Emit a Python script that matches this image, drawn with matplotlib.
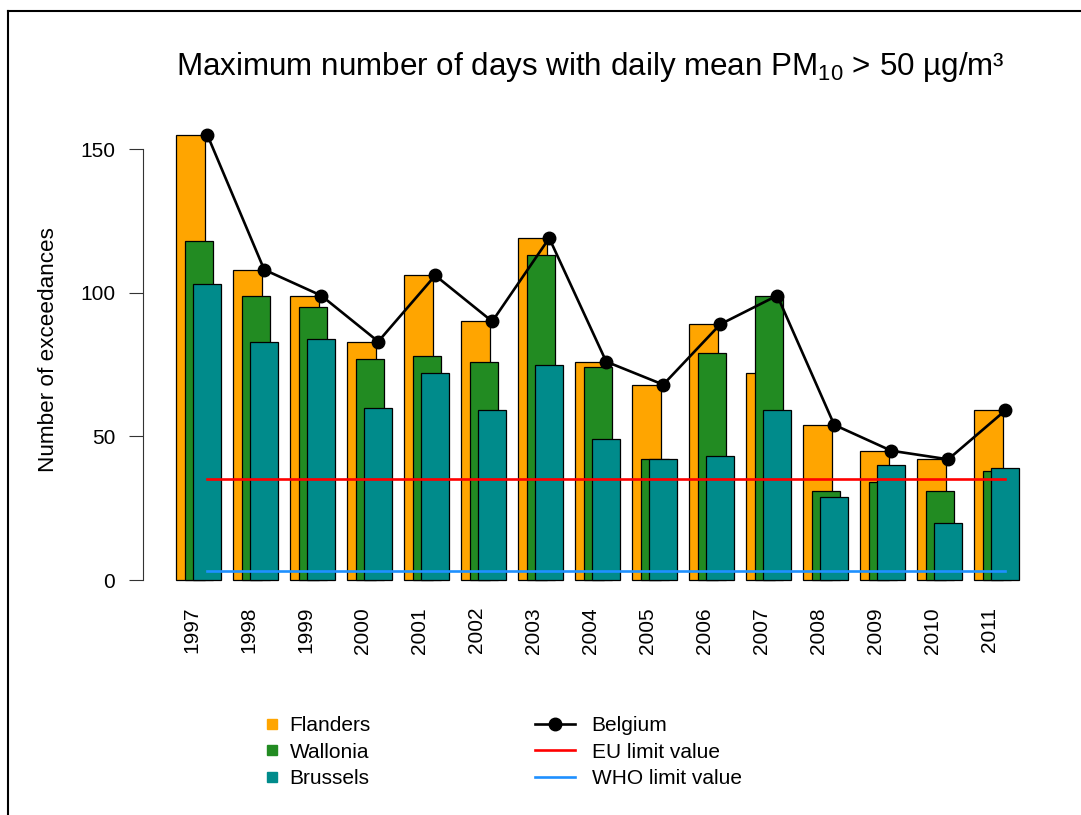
import numpy as np
import matplotlib
matplotlib.use("Agg")
import matplotlib.pyplot as plt
from matplotlib.lines import Line2D

plt.rcParams['font.family'] = ['Liberation Sans', 'DejaVu Sans']
plt.rcParams['mathtext.fontset'] = 'custom'
plt.rcParams['mathtext.rm'] = 'Liberation Sans'
plt.rcParams['mathtext.default'] = 'regular'

# data
years = ['1997', '1998', '1999', '2000', '2001', '2002', '2003', '2004',
         '2005', '2006', '2007', '2008', '2009', '2010', '2011']
flanders = [155, 108, 99, 83, 106, 90, 119, 76, 68, 89, 72, 54, 45, 42, 59]
wallonia = [118, 99, 95, 77, 78, 76, 113, 74, 42, 79, 99, 31, 34, 31, 38]
brussels = [103, 83, 84, 60, 72, 59, 75, 49, 42, 43, 59, 29, 40, 20, 39]
belgium = [155, 108, 99, 83, 106, 90, 119, 76, 68, 89, 99, 54, 45, 42, 59]
eu_limit = 35
who_limit = 3

col_fl = '#FFA500'
col_wa = '#228B22'
col_br = '#008B8B'

W, H = 1081, 815
fig = plt.figure(figsize=(W / 100, H / 100), dpi=100)

# axes placed in pixel terms
ax_l, ax_r, ax_b, ax_t = 143, 1040, 600, 120
ax = fig.add_axes([ax_l / W, 1 - ax_b / H, (ax_r - ax_l) / W, (ax_b - ax_t) / H])
ax.set_xlim(-0.981, 14.756)
ax.set_ylim((580 - 600) / 2.873, (580 - 120) / 2.873)

x = np.arange(len(years))
bw = 0.5
off = 0.146
ax.bar(x - off, flanders, width=bw, color=col_fl, edgecolor='black', linewidth=0.9, zorder=2)
ax.bar(x, wallonia, width=bw, color=col_wa, edgecolor='black', linewidth=0.9, zorder=3)
ax.bar(x + off, brussels, width=bw, color=col_br, edgecolor='black', linewidth=0.9, zorder=4)

xb = x + off
ax.plot(xb, [eu_limit] * len(xb), color='red', lw=1.9, zorder=5)
ax.plot(xb, [who_limit] * len(xb), color='#1E90FF', lw=1.9, zorder=5)
ax.plot(xb, belgium, color='black', lw=1.9, marker='o', ms=9, zorder=6)

for s in ['top', 'right', 'bottom']:
    ax.spines[s].set_visible(False)
ax.spines['left'].set_bounds(0, 150)
ax.spines['left'].set_color('#333333')
ax.spines['left'].set_linewidth(0.8)
ax.set_yticks([0, 50, 100, 150])
ax.tick_params(axis='y', length=10, width=0.8, color='#333333', pad=10, labelsize=15)
ax.set_xticks(x - 0.13)
ax.set_xticklabels(years, rotation=90, fontsize=15, va='top', ha='center')
ax.tick_params(axis='x', length=0, pad=5)

fig.text(49 / W, 1 - 350 / H, 'Number of exceedances', rotation=90,
         ha='center', va='center', fontsize=16.2)
fig.text(590 / W, 1 - 75 / H,
         r'Maximum number of days with daily mean PM$_{10}$ > 50 µg/m³',
         ha='center', va='baseline', fontsize=22.6)

# legends
h1 = [Line2D([], [], ls='none', marker='s', ms=7.5, color=c) for c in (col_fl, col_wa, col_br)]
fig.legend(h1, ['Flanders', 'Wallonia', 'Brussels'], loc='upper left',
           bbox_to_anchor=(251 / W, 1 - 706 / H), frameon=False, fontsize=15,
           handlelength=1.0, handletextpad=0.35, labelspacing=0.35, borderpad=0)
h2 = [Line2D([], [], color='black', lw=1.9, marker='o', ms=9),
      Line2D([], [], color='red', lw=1.9),
      Line2D([], [], color='#1E90FF', lw=1.9)]
fig.legend(h2, ['Belgium', 'EU limit value', 'WHO limit value'], loc='upper left',
           bbox_to_anchor=(525 / W, 1 - 706 / H), frameon=False, fontsize=15,
           handlelength=1.9, handletextpad=0.8, labelspacing=0.35, borderpad=0)

# frame lines around the figure (left and top only visible)
fig.add_artist(Line2D([8 / W, 8 / W], [0, 1 - 11 / H], color='black', lw=1.5))
fig.add_artist(Line2D([8 / W, 1], [1 - 11 / H, 1 - 11 / H], color='black', lw=1.5))

fig.savefig('out.png', dpi=100)
